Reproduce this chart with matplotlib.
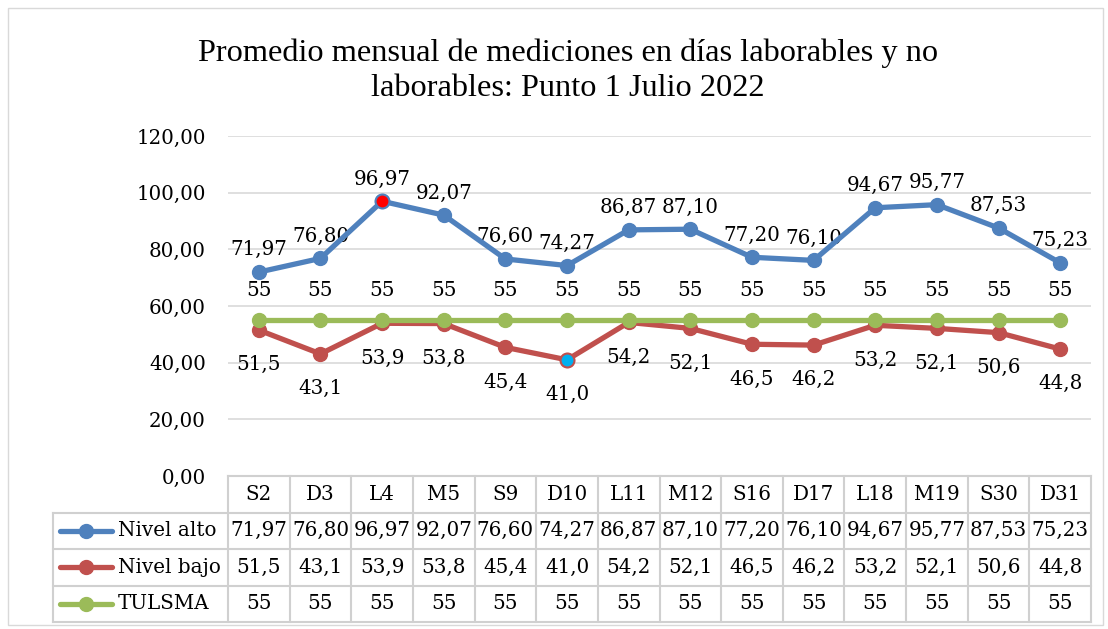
import matplotlib.pyplot as plt
from matplotlib.patches import Rectangle

categories = ['S2', 'D3', 'L4', 'M5', 'S9', 'D10', 'L11', 'M12', 'S16', 'D17', 'L18', 'M19', 'S30', 'D31']
nivel_alto = [71.97, 76.80, 96.97, 92.07, 76.60, 74.27, 86.87, 87.10, 77.20, 76.10, 94.67, 95.77, 87.53, 75.23]
nivel_bajo = [51.5, 43.1, 53.9, 53.8, 45.4, 41.0, 54.2, 52.1, 46.5, 46.2, 53.2, 52.1, 50.6, 44.8]
tulsma = [55] * 14
series_names = ['Nivel alto', 'Nivel bajo', 'TULSMA']

blue = '#4f81bd'
red = '#c0504d'
green = '#9bbb59'
grid = '#d9d9d9'
serif = 'DejaVu Serif'
fs = 14.3

W, H = 1108, 629
fig = plt.figure(figsize=(W / 100, H / 100), dpi=100)
fig.patches.append(Rectangle((8 / W, 4 / H), 1095 / W, 617 / H, transform=fig.transFigure,
                             fill=False, edgecolor=grid, linewidth=1))

fig.text(568 / W, 1 - 53 / H, 'Promedio mensual de mediciones en días laborables y no',
         ha='center', va='center', fontsize=23.3, family='Liberation Serif')
fig.text(568 / W, 1 - 89 / H, 'laborables: Punto 1 Julio 2022',
         ha='center', va='center', fontsize=23.3, family='Liberation Serif')

# plot area
x0, x1 = 228, 1091
ax = fig.add_axes([x0 / W, 1 - 476 / H, (x1 - x0) / W, (476 - 136) / H])
x = list(range(len(categories)))
ax.set_xlim(-0.5, len(categories) - 0.5)
ax.set_ylim(0, 120)
ax.set_yticks(range(0, 121, 20))
ax.set_yticklabels([f'{v:.2f}'.replace('.', ',') for v in range(0, 121, 20)],
                   family=serif, fontsize=fs)
ax.set_xticks([])
ax.tick_params(axis='y', length=0, pad=16)
for s in ax.spines.values():
    s.set_visible(False)
ax.yaxis.grid(True, color=grid, linewidth=1.2)
ax.set_axisbelow(True)

lw, ms = 3.8, 10
ax.plot(x, nivel_bajo, color=red, lw=lw, marker='o', ms=ms, zorder=3)
ax.plot(x, tulsma, color=green, lw=lw, marker='o', ms=ms, zorder=4)
ax.plot(x, nivel_alto, color=blue, lw=lw, marker='o', ms=ms, zorder=5)
# highlighted points
ax.plot(x[2], nivel_alto[2], marker='o', ms=ms, mfc='#ff0000', mec=blue, mew=1.5, zorder=6)
ax.plot(x[5], nivel_bajo[5], marker='o', ms=ms, mfc='#00b0f0', mec=red, mew=1.5, zorder=6)

for i in x:
    ax.annotate(f'{nivel_alto[i]:.2f}'.replace('.', ','), (i, nivel_alto[i]), xytext=(0, 16),
                textcoords='offset points', ha='center', va='center', family=serif, fontsize=fs)
    ax.annotate(f'{nivel_bajo[i]:.1f}'.replace('.', ','), (i, nivel_bajo[i]), xytext=(0, -25),
                textcoords='offset points', ha='center', va='center', family=serif, fontsize=fs)
    ax.annotate(f'{tulsma[i]}', (i, tulsma[i]), xytext=(0, 21),
                textcoords='offset points', ha='center', va='center', family=serif, fontsize=fs)

# data table
lx = 53
colw = (x1 - x0) / len(categories)
left_edge = -0.5 - (x0 - lx) / colw
tax = fig.add_axes([lx / W, 1 - 622 / H, (x1 - lx) / W, (622 - 476) / H])
tax.set_xlim(left_edge, len(categories) - 0.5)
tax.set_ylim(4, 0)
tax.axis('off')
tc = '#d0d0d0'
tax.plot([-0.5, len(categories) - 0.5], [0, 0], color=tc, lw=1.5, clip_on=False)
for r in (1, 2, 3, 4):
    tax.plot([left_edge, len(categories) - 0.5], [r, r], color=tc, lw=1.5, clip_on=False)
tax.plot([left_edge, left_edge], [1, 4], color=tc, lw=1.5, clip_on=False)
for c in range(len(categories) + 1):
    tax.plot([c - 0.5, c - 0.5], [0, 4], color=tc, lw=1.5, clip_on=False)

for i, cat in enumerate(categories):
    tax.text(i, 0.5, cat, ha='center', va='center', family=serif, fontsize=fs)
    tax.text(i, 1.5, f'{nivel_alto[i]:.2f}'.replace('.', ','), ha='center', va='center', family=serif, fontsize=fs)
    tax.text(i, 2.5, f'{nivel_bajo[i]:.1f}'.replace('.', ','), ha='center', va='center', family=serif, fontsize=fs)
    tax.text(i, 3.5, f'{tulsma[i]}', ha='center', va='center', family=serif, fontsize=fs)

s0 = left_edge + 7 / colw
s1 = left_edge + 59 / colw
for r, (name, col) in enumerate(zip(series_names, [blue, red, green])):
    y = r + 1.5
    tax.plot([s0, s1], [y, y], color=col, lw=lw, solid_capstyle='round')
    tax.plot([(s0 + s1) / 2], [y], color=col, marker='o', ms=ms)
    tax.text(s1 + 6 / colw, y, name, ha='left', va='center', family=serif, fontsize=fs)

fig.savefig('out.png', dpi=100)
